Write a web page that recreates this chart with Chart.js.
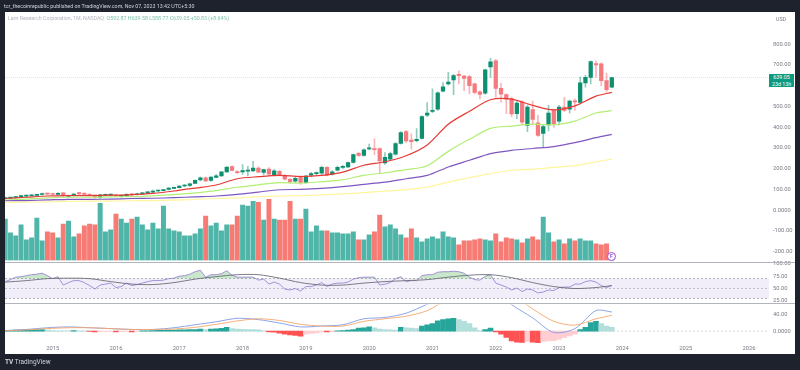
<!DOCTYPE html>
<html>
<head>
<meta charset="utf-8">
<script src="https://cdn.jsdelivr.net/npm/chart.js@4"></script>
<style>
  html, body { margin: 0; padding: 0; width: 800px; height: 370px; overflow: hidden; background: #1e222d; font-family: Roboto, sans-serif; }
  #panel { position: absolute; left: 5px; top: 12px; width: 790px; height: 342px; background: #fff; }
  canvas { position: absolute; left: 5px; }
  .txt { position: absolute; white-space: nowrap; font-size: 5.3px; line-height: 8px; }
  .sep { position: absolute; left: 5px; width: 790px; height: 1px; background: #b2b5be; }
</style>
</head>
<body>
<div id="panel"></div>
<canvas id="mainPane" width="790" height="262" style="top:6px"></canvas>
<canvas id="rsiPane" width="790" height="53" style="top:256px"></canvas>
<canvas id="macdPane" width="790" height="57" style="top:297px"></canvas>
<div class="sep" style="top:262px"></div>
<div class="sep" style="top:303px"></div>

<div class="txt" style="left:4px;top:2px;color:#d1d4dc">tcr_thecoinrepublic published on TradingView.com, Nov 07, 2023 13:42 UTC+5:30</div>
<div class="txt" style="left:8px;top:14px;color:#b2b5be">Lam Research Corporation, 1M, NASDAQ&nbsp; <span style="color:#7fc4a8">O592.87 H639.58 L588.77 C639.05 +50.83 (+8.64%)</span></div>
<div class="txt" style="left:776px;top:15px;color:#787b86">USD</div>
<div class="txt" style="left:769px;top:74px;width:25px;height:13px;background:#0e9a80;color:#fff;text-align:center;line-height:6.5px">639.05<br>23d 13h</div>
<div class="txt" style="left:607px;top:252px;width:7px;height:7px;border:1px solid #9c4fd0;border-radius:50%;background:#fff;color:#9c4fd0;text-align:center;line-height:7px;font-weight:700">F</div>
<div class="txt" style="left:5px;top:358px;color:#d1d4dc;font-size:6.5px"><b>TV</b> TradingView</div>

<script>
// one entry per month, first one is Apr 2014, last one is Nov 2023
const opens = [56,58,60,65,67,69,71,75,80,79,75,83,66,70,84,80,76,72,62,71,72,72,66,68,77,74,79,83,86,92,94,100,105,108,116,119,129,146,156,143,158,165,184,210,186,184,188,189,202,181,198,168,187,168,148,140,160,132,168,176,178,206,173,192,206,208,230,273,264,295,297,296,227,245,270,321,379,338,335,346,457,475,487,573,608,627,654,646,644,608,570,564,690,719,587,557,538,465,521,408,484,421,370,410,481,428,497,486,527,519,613,640,706,705,624,592.87];
const highs = [60,62,66,70,71,73,75,82,82,82,84,85,72,80,86,84,80,74,76,78,77,76,72,80,80,82,86,90,96,96,100,108,111,118,124,130,146,160,160,162,172,186,208,213,190,219,211,235,209,198,205,195,192,172,152,158,165,168,182,185,212,210,190,212,216,233,270,278,295,318,343,300,277,280,325,378,385,367,393,455,518,584,570,614,664,654,671,650,650,612,575,680,731,727,611,560,545,523,527,505,525,457,410,505,485,505,544,530,536,642,650,720,718,710,660,639.58];
const lows = [52,56,58,63,64,66,68,73,74,72,74,66,62,68,76,72,68,58,56,68,66,66,62,66,70,72,76,80,84,88,92,97,103,107,112,113,127,141,136,138,155,162,181,188,176,172,165,186,180,170,165,165,165,145,130,135,124,128,160,170,172,165,168,188,200,205,226,258,260,290,267,176,220,240,265,318,325,294,328,342,450,470,480,570,602,556,608,576,560,560,536,558,640,544,521,465,449,441,410,378,410,355,305,382,398,410,475,468,481,510,592,608,640,600,568,588.77];
const closes = [59,60,65,67,69,71,72,80,77,75,81,69,70,77,78,76,71,62,74,74,75,68,70,76,73,79,82,86,92,93,97,106,109,116,119,127,143,156,141,159,165,184,207,191,180,190,192,202,183,195,173,189,168,149,137,153,132,164,176,179,206,170,184,206,209,229,267,264,291,297,291,237,254,272,321,373,333,330,341,451,468,481,565,594,617,648,648,635,600,567,557,676,714,587,559,535,464,516,424,497,437,360,402,468,417,497,481,525,521,613,640,716,700,624,580,639.05];
const volumes = [42,28,25,36,21,23,43,20,29,28,23,37,40,24,27,35,37,36,58,29,31,47,42,38,42,44,36,31,38,32,55,32,30,29,25,25,27,32,45,35,38,30,36,36,45,56,55,60,59,41,62,42,41,41,60,42,42,52,29,35,30,30,28,28,27,27,29,21,21,26,29,46,34,36,32,26,23,32,23,19,22,24,22,29,24,23,16,20,20,21,22,21,20,27,19,23,22,21,18,22,24,21,44,28,19,21,17,22,20,22,20,20,17,16,17,3];
const rsiValues = [64,68,73,74,76,78,79,81,76,70,74,57,62,66,66,62,56,49,57,59,61,52,54,61,56,58,61,64,66,66,67,70,71,75,76,79,84,87,73,78,78,80,86,77,73,73,73,73,67,69,59,63,59,49,47,50,45,54,54,57,62,54,59,61,61,63,69,72,73,73,73,57,59,62,70,74,64,66,66,76,78,78,83,84,84,85,84,81,73,68,67,75,78,61,57,53,47,51,44,49,47,41,43,47,46,52,53,53,59,59,64,66,63,56,52,56];
const macdHist = [1.5,2,2.5,2.8,3,3.2,3.4,3.6,2.5,1.5,1,0.8,0.7,1.5,1,0.5,-0.4,-2,-1,-0.7,-0.5,-1.5,-1.2,-0.8,-1.6,-0.5,0.5,1,1.5,1.8,2,2.3,2.6,2.9,3.2,3.5,4,5,4,5,5.5,6.5,9,6,5,4.5,4,3.5,3,0.5,-1.5,-2.3,-4.6,-7,-8.5,-10,-11.5,-7,-5.4,-4,-1.5,-2,-1,0.5,1.5,2.5,4,7,8,10,8,5,4,3,2.5,9,8,7,6,12,15,18,24,27,29,30,27,23,18,8,1.5,4,7,-1.5,-7,-14.5,-23,-26,-26.5,-24,-26,-27,-24,-23,-22,-19,-15,-11,-7,4,9,20,23,18,12,9];

// lines read every 4 months
const sampleMonths = [-9,-5,-1,3,7,11,15,19,23,27,31,35,39,43,47,51,55,59,63,67,71,75,79,83,87,91,95,99,103,106];
const ema20 = [56,62,68,70,70,72,75,81,92,106,121,151,161,167,162,167,183,216,233,262,314,414,476,532,535,505,483,502,549,567];
const ema50 = [48,53,59,62,62,64,65,69,75,83,94,110,122,132,130,137,146,167,180,195,214,283,341,394,405,414,411,429,468,479];
const ema100 = [45,46,49,52,52,53,56,57,60,64,68,76,87,98,100,105,113,124,135,151,167,208,240,272,288,297,306,325,349,365];
const ema200 = [37,38,40,42,43,43,45,46,48,51,56,59,65,68,70,73,78,84,91,99,111,135,156,176,192,197,206,214,232,246];
const rsiAverage = [63,66,70,71,70,64,59,58,62,69,74,78,78,71,62,57,57,61,64,66,68,73,77,78,72,62,54,50,52,56];
const macdLine = [1.5,4,8,10,8,6,4,4,8,15,22,30,27,19,10,12,15,29,32,42,63,85,95,100,62,31,-3,6,48,45];
const macdSignal = [1,3,6,8,8,6,4,4,5,9,16,24,29,25,16,12,12,23,29,35,48,75,88,95,85,52,23,14,29,37];

const priceTicks = [800,700,500,400,300,200,100,0,-100,-200];
const rsiTicks = [100,75,50,25];
const macdTicks = [40,0];
const yearTicks = [0,12,24,36,48,60,72,84,96,108,120,132];
const lastPrice = 639.05;

const green = "#0d8f70", red = "#f47a80";
const months = opens.map((o, i) => i - 9); // months since Jan 2015
const isUp = (i) => closes[i] >= opens[i];
const xMin = -9.04, xMax = 135.8;
const edges = [xMin, xMax];
const tickFont = { family: "Roboto", size: 5.8 };

function fmt(v) {
  return v === 0 ? "0.0000" : v.toFixed(2);
}

function xAxis(show) {
  return {
    type: "linear",
    display: show,
    offset: false, // bar charts turn this on, it would shift the months
    min: xMin,
    max: xMax,
    grid: { display: false, drawTicks: false },
    border: { display: false },
    afterBuildTicks: (s) => { s.ticks = yearTicks.map((v) => ({ value: v })); },
    afterFit: (s) => { if (show) s.height = 10; },
    ticks: {
      color: "#787b86",
      font: tickFont,
      padding: 1,
      maxRotation: 0,
      autoSkip: false,
      callback: (v) => String(2015 + v / 12),
    },
  };
}

function yAxis(min, max, tickList) {
  return {
    position: "right",
    min: min,
    max: max,
    grid: { display: false, drawTicks: false },
    border: { display: false },
    afterBuildTicks: (s) => { s.ticks = tickList.map((v) => ({ value: v })); },
    afterFit: (s) => { s.width = 26; },
    ticks: { color: "#787b86", font: tickFont, padding: 4, callback: fmt },
  };
}

function line(xs, ys, color, width, extra) {
  return Object.assign({
    type: "line",
    data: xs.map((x, i) => ({ x: x, y: ys[i] })),
    borderColor: color,
    borderWidth: width,
    pointRadius: 0,
    fill: false,
    tension: 0,
    order: 1,
  }, extra);
}

function options(scales, padding) {
  return {
    responsive: false,
    animation: false,
    events: [],
    layout: { autoPadding: false, padding: padding },
    plugins: { legend: { display: false }, tooltip: { enabled: false } },
    scales: scales,
  };
}

new Chart(document.getElementById("mainPane"), {
  type: "bar",
  data: {
    datasets: [
      {
        yAxisID: "vol",
        data: months.map((m, i) => ({ x: m, y: volumes[i] })),
        backgroundColor: months.map((m, i) => (isUp(i) ? "#4fb5a8" : "#f57b74")),
        barThickness: 4.3,
        grouped: false,
        order: 5,
      },
      {
        data: months.map((m, i) => ({ x: m, y: [lows[i], highs[i]] })),
        backgroundColor: months.map((m, i) => (isUp(i) ? "rgba(13,143,112,.45)" : "rgba(244,122,128,.55)")),
        barThickness: 1,
        grouped: false,
        order: 4,
      },
      {
        data: months.map((m, i) => ({ x: m, y: [opens[i], closes[i]] })),
        backgroundColor: months.map((m, i) => (isUp(i) ? green : red)),
        barThickness: 3.6,
        minBarLength: 1,
        grouped: false,
        order: 3,
      },
      line(edges, [lastPrice, lastPrice], "#dfe3e6", 1, { borderDash: [1, 1], order: 6 }),
      line(sampleMonths, ema200, "#fff59d", 1.2, { tension: 0.3 }),
      line(sampleMonths, ema100, "#7e57c2", 1.2, { tension: 0.3 }),
      line(sampleMonths, ema50, "#b2ee73", 1.2, { tension: 0.3 }),
      line(sampleMonths, ema20, "#e53935", 1.2, { tension: 0.3 }),
    ],
  },
  options: options({
    x: xAxis(false),
    y: yAxis(-243, 947.6, priceTicks),
    vol: { display: false, min: 0, max: 250 },
  }, { top: 6, bottom: 6 }),
});

new Chart(document.getElementById("rsiPane"), {
  type: "line",
  data: {
    datasets: [
      line(edges, [70, 70], "#9598a1", 0.7, { borderDash: [2, 2], fill: "+1", backgroundColor: "rgba(126,87,194,.1)", order: 3 }),
      line(edges, [30, 30], "#9598a1", 0.7, { borderDash: [2, 2], order: 3 }),
      line(edges, [50, 50], "#b2b5be", 0.7, { borderDash: [2, 2], order: 3 }),
      line(months, rsiValues, "#8f78cf", 0.8, {
        fill: { target: { value: 70 }, above: "rgba(76,175,80,.3)", below: "rgba(0,0,0,0)" },
        order: 2,
      }),
      line(sampleMonths, rsiAverage, "#6a6d78", 0.9, { tension: 0.3 }),
    ],
  },
  options: options({
    x: xAxis(false),
    y: yAxis(23.7, 100.7, rsiTicks),
  }, { top: 6, bottom: 6 }),
});

const histColors = macdHist.map((v, i) => {
  const prev = i > 0 ? macdHist[i - 1] : 0;
  if (v >= 0) return v >= prev ? "#26a69a" : "#b2dfdb";
  return v < prev ? "#ff5252" : "#ffcdd2";
});

new Chart(document.getElementById("macdPane"), {
  type: "bar",
  data: {
    datasets: [
      {
        data: months.map((m, i) => ({ x: m, y: macdHist[i] })),
        backgroundColor: histColors,
        barThickness: 5,
        order: 3,
      },
      line(edges, [0, 0], "#c3c6ce", 0.7, { borderDash: [2, 2], order: 4 }),
      line(sampleMonths, macdSignal, "#f5a66b", 0.9, { tension: 0.3 }),
      line(sampleMonths, macdLine, "#7f9be8", 0.9, { tension: 0.3 }),
    ],
  },
  options: options({
    x: xAxis(true),
    y: yAxis(-30, 62.4, macdTicks),
  }, { top: 7, bottom: 0 }),
});
</script>
</body>
</html>
